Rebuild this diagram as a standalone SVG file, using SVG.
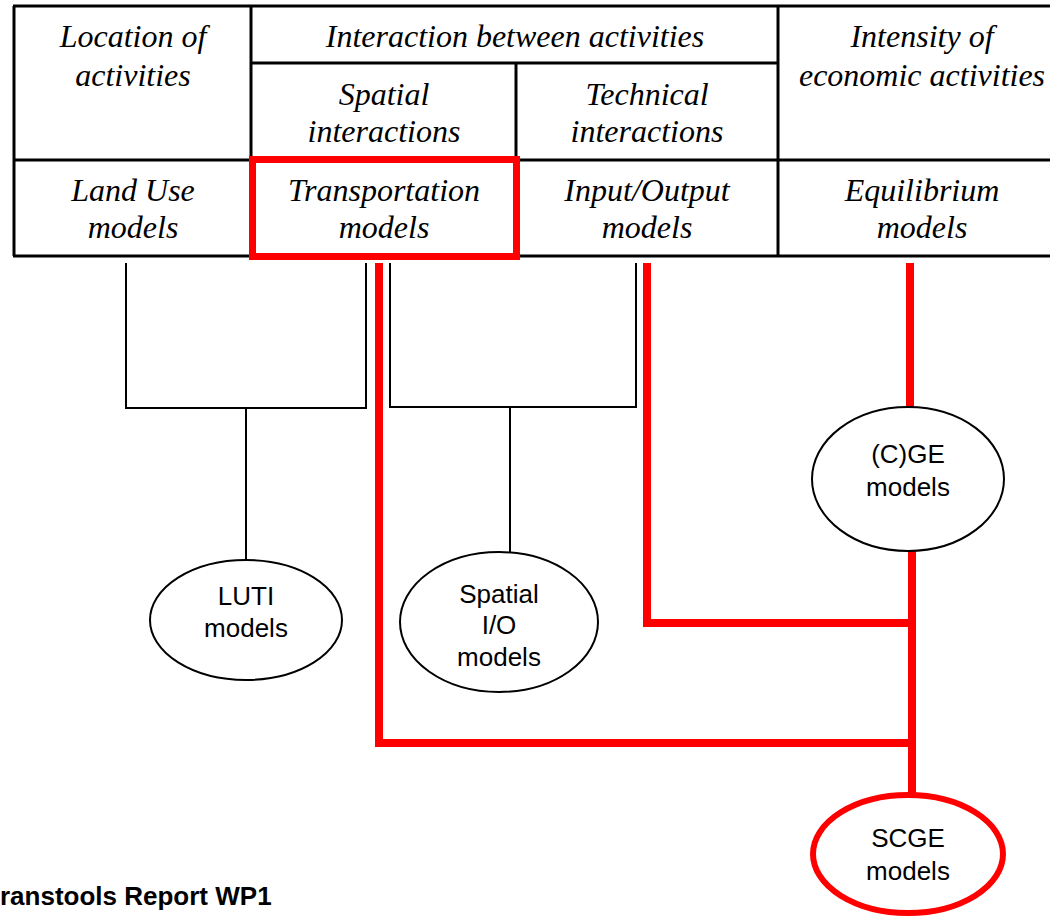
<svg xmlns="http://www.w3.org/2000/svg" width="1050" height="917" viewBox="0 0 1050 917">
<style>
.tb{stroke:#000;stroke-width:3;fill:none}
.hd{font-family:"Liberation Serif","Times New Roman",serif;font-style:italic;font-size:32px;fill:#000;text-anchor:middle}
.lb{font-family:"Liberation Sans",Arial,sans-serif;font-size:26px;fill:#000;text-anchor:middle}
.bk{stroke:#000;stroke-width:2;fill:none}
.rd{stroke:#f00;stroke-width:8;fill:none}
.el{fill:#fff;stroke:#000;stroke-width:2}
</style>
<rect width="1050" height="917" fill="#fff"/>
<g id="table">
<line class="tb" x1="13" y1="6" x2="1050" y2="6"/>
<line class="tb" x1="14" y1="6" x2="14" y2="256"/>
<line class="tb" x1="251" y1="6" x2="251" y2="256"/>
<line class="tb" x1="516" y1="63" x2="516" y2="256"/>
<line class="tb" x1="778" y1="6" x2="778" y2="256"/>
<line class="tb" x1="251" y1="63" x2="778" y2="63"/>
<line class="tb" x1="13" y1="160" x2="1050" y2="160"/>
<line class="tb" x1="13" y1="256" x2="1050" y2="256"/>
<text class="hd" x="133" y="47">Location of</text>
<text class="hd" x="133" y="86">activities</text>
<text class="hd" x="515" y="47">Interaction between activities</text>
<text class="hd" x="384" y="105">Spatial</text>
<text class="hd" x="384" y="142">interactions</text>
<text class="hd" x="647" y="105">Technical</text>
<text class="hd" x="647" y="142">interactions</text>
<text class="hd" x="922" y="47">Intensity of</text>
<text class="hd" x="922" y="86">economic activities</text>
<text class="hd" x="133" y="201">Land Use</text>
<text class="hd" x="133" y="238">models</text>
<text class="hd" x="647" y="201">Input/Output</text>
<text class="hd" x="647" y="238">models</text>
<text class="hd" x="922" y="201">Equilibrium</text>
<text class="hd" x="922" y="238">models</text>
</g>
<g id="transport">
<rect x="252.5" y="159.5" width="264" height="97" fill="none" stroke="#f00" stroke-width="7"/>
<text class="hd" x="384" y="201">Transportation</text>
<text class="hd" x="384" y="238">models</text>
</g>
<g id="connectors">
<polyline class="bk" points="126,263 126,408 366,408 366,263"/>
<line class="bk" x1="246" y1="408" x2="246" y2="561"/>
<polyline class="bk" points="390,263 390,407 636,407 636,263"/>
<line class="bk" x1="510" y1="407" x2="510" y2="553"/>
<polyline class="rd" points="379,263 379,743 912,743"/>
<polyline class="rd" points="647,263 647,623 912,623"/>
<line class="rd" x1="910" y1="263" x2="910" y2="408"/>
<line class="rd" x1="912" y1="551" x2="912" y2="795"/>
</g>
<g id="luti">
<ellipse class="el" cx="246" cy="620" rx="96" ry="60"/>
<text class="lb" x="246" y="605">LUTI</text>
<text class="lb" x="246" y="637">models</text>
</g>
<g id="spatialio">
<ellipse class="el" cx="499" cy="622" rx="99" ry="70"/>
<text class="lb" x="499" y="603">Spatial</text>
<text class="lb" x="499" y="634">I/O</text>
<text class="lb" x="499" y="666">models</text>
</g>
<g id="cge">
<ellipse class="el" cx="908" cy="479" rx="96" ry="72"/>
<text class="lb" x="908" y="463">(C)GE</text>
<text class="lb" x="908" y="496">models</text>
</g>
<g id="scge">
<ellipse cx="908" cy="854" rx="95" ry="59" fill="#fff" stroke="#f00" stroke-width="6"/>
<text class="lb" x="908" y="847">SCGE</text>
<text class="lb" x="908" y="880">models</text>
</g>
<text x="0" y="905" font-family="Liberation Sans,Arial,sans-serif" font-weight="bold" font-size="26" fill="#000">ranstools Report WP1</text>
</svg>
